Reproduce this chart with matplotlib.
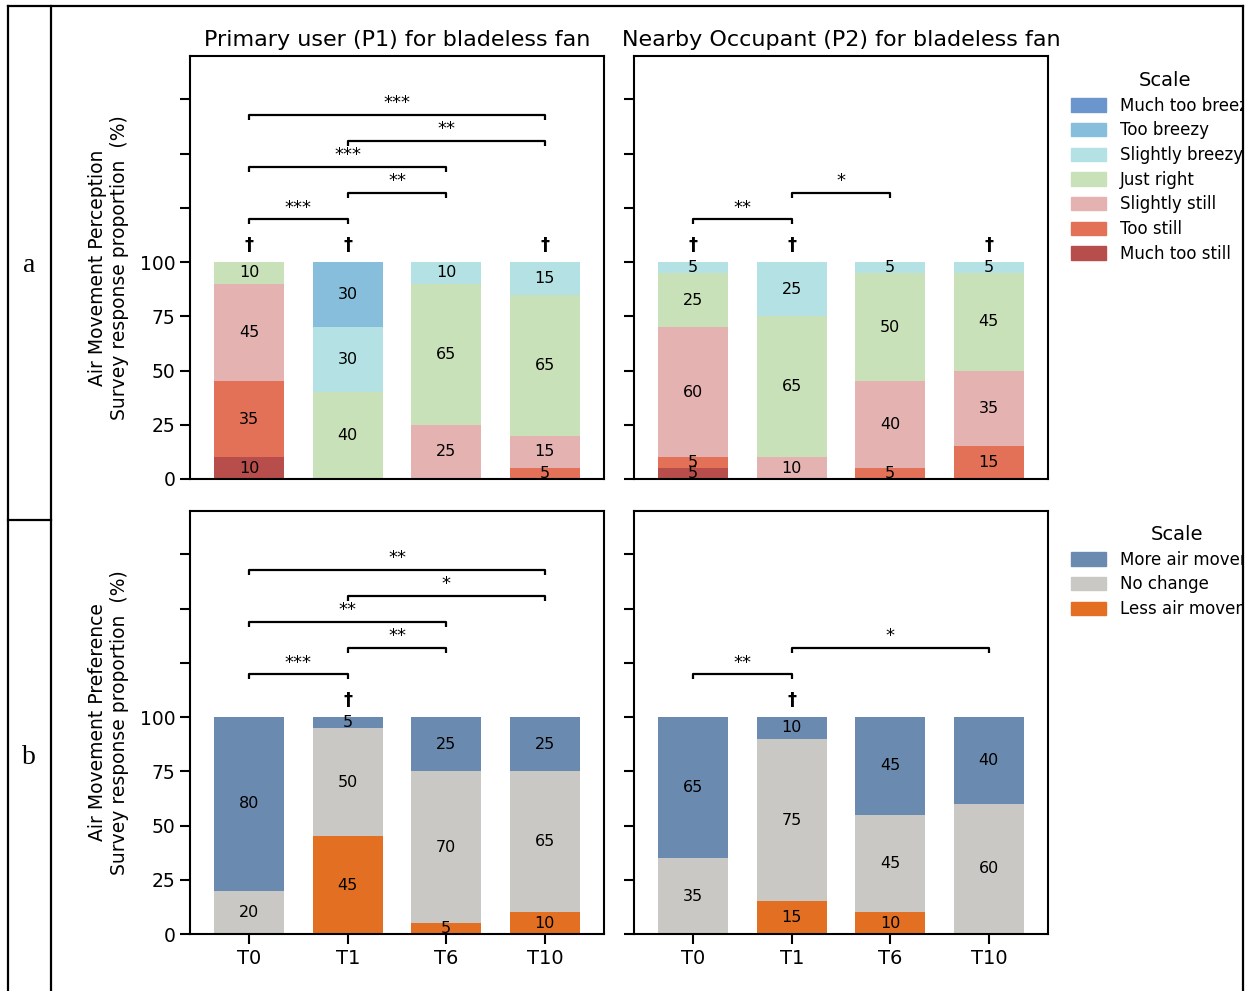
import matplotlib
matplotlib.use("Agg")
import matplotlib.pyplot as plt
import numpy as np
from matplotlib.lines import Line2D
from matplotlib.patches import Rectangle, Patch

times = ["T0", "T1", "T6", "T10"]

# perception, bottom -> top
perc_cats = ["Much too still", "Too still", "Slightly still", "Just right",
             "Slightly breezy", "Too breezy", "Much too breezy"]
perc_colors = ["#B84E4C", "#E27158", "#E5B2B2", "#C8E1B8",
               "#B4E2E4", "#86BEDC", "#6A96CD"]
perc_p1 = {
    "Much too still":  [10, 0, 0, 0],
    "Too still":       [35, 0, 0, 5],
    "Slightly still":  [45, 0, 25, 15],
    "Just right":      [10, 40, 65, 65],
    "Slightly breezy": [0, 30, 10, 15],
    "Too breezy":      [0, 30, 0, 0],
    "Much too breezy": [0, 0, 0, 0],
}
perc_p2 = {
    "Much too still":  [5, 0, 0, 0],
    "Too still":       [5, 0, 5, 15],
    "Slightly still":  [60, 10, 40, 35],
    "Just right":      [25, 65, 50, 45],
    "Slightly breezy": [5, 25, 5, 5],
    "Too breezy":      [0, 0, 0, 0],
    "Much too breezy": [0, 0, 0, 0],
}

# preference, bottom -> top
pref_cats = ["Less air movement", "No change", "More air movement"]
pref_colors = ["#E37022", "#C9C8C4", "#6B8AB0"]
pref_p1 = {
    "Less air movement": [0, 45, 5, 10],
    "No change":         [20, 50, 70, 65],
    "More air movement": [80, 5, 25, 25],
}
pref_p2 = {
    "Less air movement": [0, 15, 10, 0],
    "No change":         [35, 75, 45, 60],
    "More air movement": [65, 10, 45, 40],
}

# significance: (i, j, level, stars)
sig_perc_p1 = [(0, 1, 120, "***"), (1, 2, 132, "**"), (0, 2, 144, "***"),
               (1, 3, 156, "**"), (0, 3, 168, "***")]
sig_perc_p2 = [(0, 1, 120, "**"), (1, 2, 132, "*")]
sig_pref_p1 = [(0, 1, 120, "***"), (1, 2, 132, "**"), (0, 2, 144, "**"),
               (1, 3, 156, "*"), (0, 3, 168, "**")]
sig_pref_p2 = [(0, 1, 120, "**"), (1, 3, 132, "*")]
dag_perc_p1 = [0, 1, 3]
dag_perc_p2 = [0, 1, 3]
dag_pref_p1 = [1]
dag_pref_p2 = [1]

W, H = 1255, 991
fig = plt.figure(figsize=(W / 100, H / 100), dpi=100)


def fbox(x0, y0, x1, y1):
    return [x0 / W, 1 - y1 / H, (x1 - x0) / W, (y1 - y0) / H]


ax_a1 = fig.add_axes(fbox(190, 56, 604, 479))
ax_a2 = fig.add_axes(fbox(634, 56, 1048, 479))
ax_b1 = fig.add_axes(fbox(190, 511, 604, 934))
ax_b2 = fig.add_axes(fbox(634, 511, 1048, 934))

x = np.arange(len(times))


def stacked(ax, data, cats, colors):
    bottom = np.zeros(len(times))
    for c, col in zip(cats, colors):
        vals = np.array(data[c], dtype=float)
        bars = ax.bar(x, vals, 0.71, bottom=bottom, color=col, label=c)
        labels = [str(int(v)) if v > 0 else "" for v in vals]
        ax.bar_label(bars, labels=labels, label_type="center", fontsize=11.5)
        bottom += vals


def bracket(ax, i, j, y, txt):
    ax.plot([i, i, j, j], [y - 2.5, y, y, y - 2.5], color="k", lw=1.6,
            solid_capstyle="butt", clip_on=False)
    ax.text((i + j) / 2, y + 1.0, txt, ha="center", va="bottom", fontsize=13)


def style(ax, bottom_row, left_col):
    ax.set_xlim(-0.6, 3.6)
    ax.set_ylim(0, 195)
    ax.set_yticks(np.arange(0, 176, 25))
    if left_col:
        ax.set_yticklabels(["0", "25", "50", "75", "100", "", "", ""], fontsize=13.5)
    else:
        ax.set_yticklabels([])
    ax.tick_params(axis="y", length=7, width=1.5, direction="out")
    ax.set_xticks(x)
    if bottom_row:
        ax.set_xticklabels(times, fontsize=14)
        ax.tick_params(axis="x", length=7, width=1.5)
    else:
        ax.set_xticklabels([])
        ax.tick_params(axis="x", length=0)
    for s in ax.spines.values():
        s.set_linewidth(1.5)


panels = [
    (ax_a1, perc_p1, perc_cats, perc_colors, sig_perc_p1, dag_perc_p1, False, True),
    (ax_a2, perc_p2, perc_cats, perc_colors, sig_perc_p2, dag_perc_p2, False, False),
    (ax_b1, pref_p1, pref_cats, pref_colors, sig_pref_p1, dag_pref_p1, True, True),
    (ax_b2, pref_p2, pref_cats, pref_colors, sig_pref_p2, dag_pref_p2, True, False),
]
for ax, data, cats, cols, sigs, dags, brow, lcol in panels:
    stacked(ax, data, cats, cols)
    for i, j, y, t in sigs:
        bracket(ax, i, j, y, t)
    for d in dags:
        ax.text(d, 108, "\u2020", ha="center", va="center", fontsize=13,
                fontweight="bold")
    style(ax, brow, lcol)

ax_a1.set_title("Primary user (P1) for bladeless fan", fontsize=16, pad=7)
ax_a2.set_title("Nearby Occupant (P2) for bladeless fan", fontsize=16, pad=7)
ax_a1.set_ylabel("Air Movement Perception\nSurvey response proportion  (%)",
                 fontsize=13.5, labelpad=8, linespacing=1.15)
ax_b1.set_ylabel("Air Movement Preference\nSurvey response proportion  (%)",
                 fontsize=13.5, labelpad=8, linespacing=1.15)

# legends, top -> bottom order
h_perc = [Patch(color=c, label=l) for l, c in zip(perc_cats[::-1], perc_colors[::-1])]
h_pref = [Patch(color=c, label=l) for l, c in zip(pref_cats[::-1], pref_colors[::-1])]
leg_kw = dict(loc="upper left", bbox_transform=fig.transFigure, frameon=False,
              fontsize=12, title="Scale", title_fontsize=14,
              handlelength=2.1, handleheight=0.85, handletextpad=0.85,
              labelspacing=0.4, borderpad=0, borderaxespad=0)
ax_a2.legend(handles=h_perc, bbox_to_anchor=(1071 / W, 1 - 71 / H), **leg_kw)
ax_b2.legend(handles=h_pref, bbox_to_anchor=(1071 / W, 1 - 525 / H), **leg_kw)

# outer frame and row labels
fig.patches.append(Rectangle((1244 / W, 0), 12 / W, 1, transform=fig.transFigure,
                             facecolor="white", edgecolor="none", zorder=20))
frame = [((8, 8), (6, H)), ((51, 51), (6, H)), ((8, 1243), (6, 6)),
         ((1243, 1243), (6, H)), ((8, 51), (520, 520))]
for xs, ys in frame:
    fig.add_artist(Line2D([v / W for v in xs], [1 - v / H for v in ys],
                          color="k", lw=1.6, zorder=21))
fig.text(29 / W, 1 - 266 / H, "a", fontsize=20, family="Liberation Serif",
         ha="center", va="center")
fig.text(29 / W, 1 - 758 / H, "b", fontsize=20, family="Liberation Serif",
         ha="center", va="center")

fig.savefig("out.png", dpi=100)
